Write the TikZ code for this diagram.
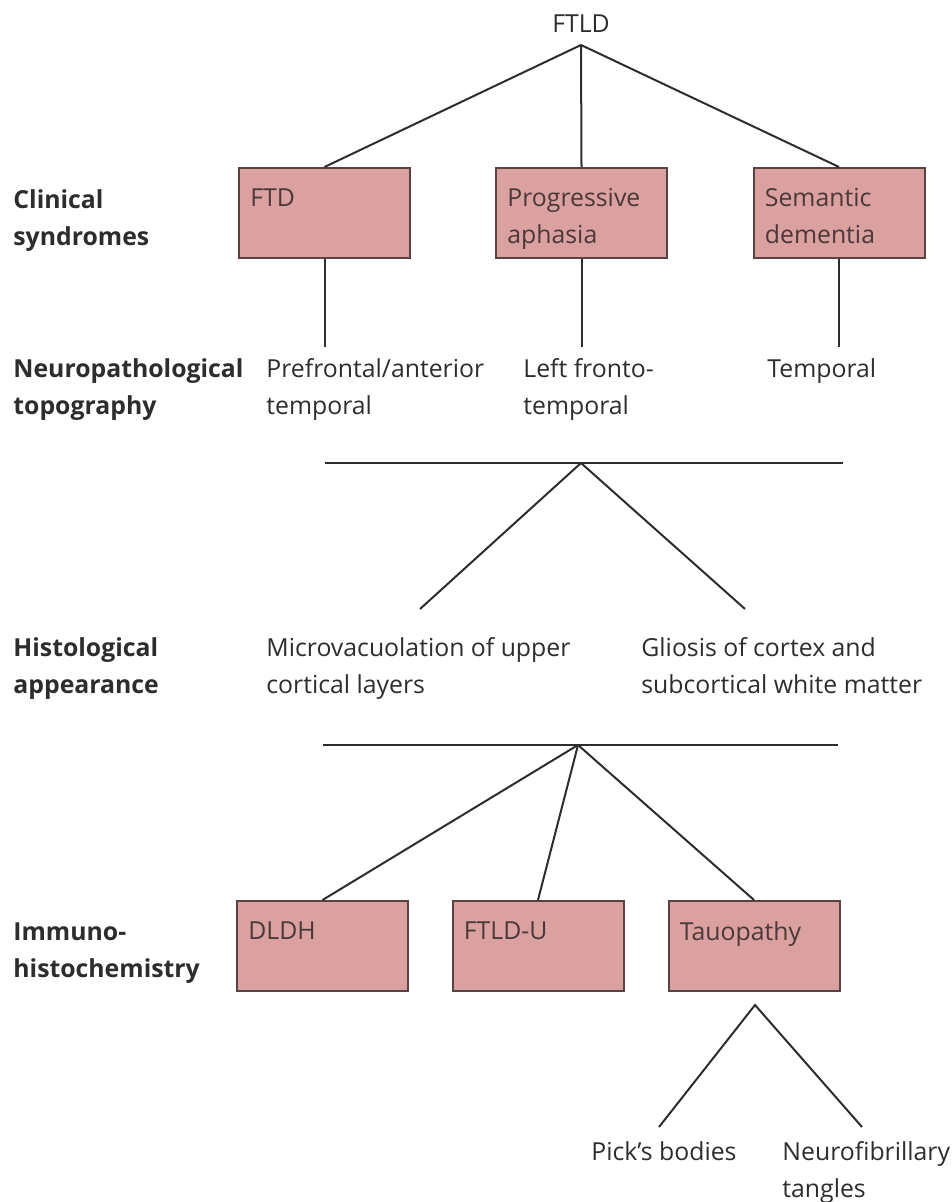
\documentclass[tikz,border=0pt]{standalone}
\usepackage{fontspec}
\setmainfont{Open Sans}
\usepackage{xcolor}
\usepackage{tikz}
\usetikzlibrary{positioning,calc}

\definecolor{boxfill}{RGB}{219,160,160}
\definecolor{boxline}{RGB}{88,66,66}
\definecolor{inktext}{RGB}{45,45,45}

\tikzset{
    synbox/.style={draw=boxline, fill=boxfill, line width=1pt, minimum width=85.5pt, minimum height=45pt, inner sep=0pt},
    boxtext/.style={anchor=north west, align=left, inner sep=0pt, xshift=6pt, yshift=-10.5pt, text=boxline!85!black, font=\fontsize{12.4}{18.5}\selectfont},
    rowlabel/.style={anchor=north west, align=left, inner sep=0pt, text=inktext, font=\bfseries\fontsize{12.4}{18.5}\selectfont},
    plaintext/.style={anchor=north west, align=left, inner sep=0pt, text=inktext, font=\fontsize{12.4}{18.5}\selectfont},
    branch/.style={draw=inktext, line width=1pt},
}

\begin{document}
\begin{tikzpicture}[x=0.5pt, y=-0.5pt]
    \useasboundingbox (0,0) rectangle (951,1202);

    % row titles
    \node [rowlabel] (clinical) at (13,189) {Clinical\\syndromes};
    \node [rowlabel] (topography) at (13,358) {Neuropathological\\topography};
    \node [rowlabel] (histology) at (13,637) {Histological\\appearance};
    \node [rowlabel] (immuno) at (13,922) {Immuno-\\histochemistry};

    % clinical syndromes
    \node [plaintext, anchor=north] (ftld) at (581,14) {FTLD};
    \node [synbox, label={[boxtext]north west:FTD}] (ftd) at (324.5,213) {};
    \node [synbox, label={[boxtext]north west:Progressive\\aphasia}] (pa) at (581.5,213) {};
    \node [synbox, label={[boxtext]north west:Semantic\\dementia}] (sd) at (839,213) {};

    \coordinate (ftldroot) at (581,45);
    \draw [branch] (ftldroot) -- (ftd.north);
    \draw [branch] (ftldroot) -- (pa.north);
    \draw [branch] (ftldroot) -- (sd.north);

    % topography
    \coordinate (toplevel) at (0,347);
    \draw [branch] (ftd.south) -- (ftd.south |- toplevel);
    \draw [branch] (pa.south) -- (pa.south |- toplevel);
    \draw [branch] (sd.south) -- (sd.south |- toplevel);

    \node [plaintext] (prefrontal) at (266,358) {Prefrontal/anterior\\temporal};
    \node [plaintext] (leftfronto) at (523,358) {Left fronto-\\temporal};
    \node [plaintext] (temporal) at (767,358) {Temporal};

    % histology
    \coordinate (histbarl) at (325,463);
    \coordinate (histbarr) at (843,463);
    \coordinate (histmid) at (581,463);
    \coordinate (microend) at (420,609);
    \coordinate (gliosisend) at (745,609);
    \draw [branch] (histbarl) -- (histbarr);
    \draw [branch] (histmid) -- (microend);
    \draw [branch] (histmid) -- (gliosisend);

    \node [plaintext] (micro) at (266,637) {Microvacuolation of upper\\cortical layers};
    \node [plaintext] (gliosis) at (641,637) {Gliosis of cortex and\\subcortical white matter};

    % immunohistochemistry
    \coordinate (immbarl) at (323,745);
    \coordinate (immbarr) at (838,745);
    \coordinate (immmid) at (578,745);
    \draw [branch] (immbarl) -- (immbarr);

    \node [synbox, label={[boxtext]north west:DLDH}] (dldh) at (322.5,946) {};
    \node [synbox, label={[boxtext]north west:FTLD-U}] (ftldu) at (538,946) {};
    \node [synbox, label={[boxtext]north west:Tauopathy}] (tau) at (754,946) {};

    \draw [branch] (immmid) -- (dldh.north);
    \draw [branch] (immmid) -- (ftldu.north);
    \draw [branch] (immmid) -- (tau.north);

    % tau subtypes
    \coordinate (taufork) at (755,1005);
    \coordinate (picksend) at (659,1127);
    \coordinate (nftend) at (862,1127);
    \draw [branch] (picksend) -- (taufork) -- (nftend);

    \node [plaintext] (picks) at (591,1141) {Pick's bodies};
    \node [plaintext] (nft) at (782,1141) {Neurofibrillary\\tangles};
\end{tikzpicture}
\end{document}
